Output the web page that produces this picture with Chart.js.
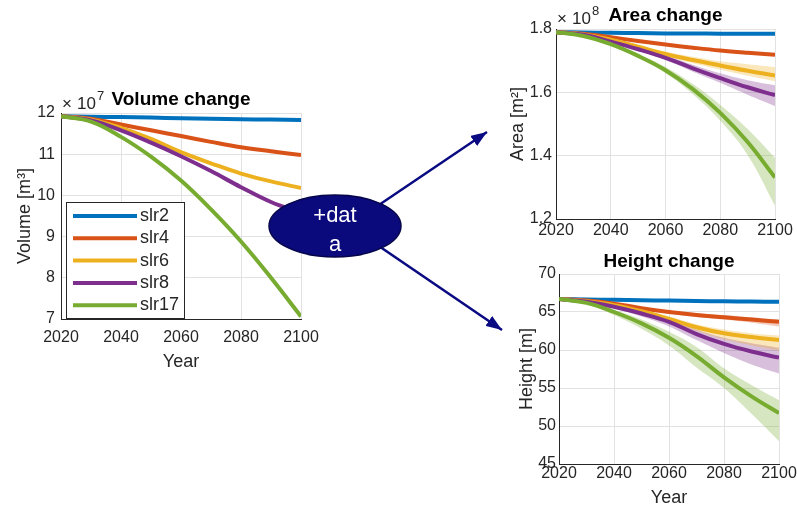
<!DOCTYPE html>
<html>
<head>
<meta charset="utf-8">
<script src="https://cdn.jsdelivr.net/npm/chart.js@4.4.0/dist/chart.umd.min.js"></script>
<style>
  body { margin: 0; background: #fff; }
  #wrap { position: relative; width: 797px; height: 509px; overflow: hidden; }
  .box { position: absolute; }
  svg { position: absolute; left: 0; top: 0; }
</style>
</head>
<body>
<div id="wrap">
  <div class="box" style="left:0;top:0;width:328px;height:380px"><canvas id="volume"></canvas></div>
  <div class="box" style="left:500px;top:0;width:297px;height:250px"><canvas id="area"></canvas></div>
  <div class="box" style="left:500px;top:250px;width:297px;height:259px"><canvas id="height"></canvas></div>
  <svg width="797" height="509">
    <defs>
      <marker id="ah" viewBox="0 0 16 12" refX="16" refY="6" markerWidth="16" markerHeight="12" markerUnits="userSpaceOnUse" orient="auto">
        <path d="M0,0 L16,6 L0,12 z" fill="#0a0a82"/>
      </marker>
    </defs>
    <line x1="370" y1="211" x2="487" y2="132" stroke="#0a0a82" stroke-width="2.5" marker-end="url(#ah)"/>
    <line x1="370" y1="240" x2="502" y2="330" stroke="#0a0a82" stroke-width="2.5" marker-end="url(#ah)"/>
    <ellipse cx="335" cy="226" rx="66" ry="31" fill="#0a0a7c" stroke="#05054a" stroke-width="1.5"/>
    <text x="335" y="222" fill="#fff" font-family="Liberation Sans, Arial, sans-serif" font-size="22" text-anchor="middle">+dat</text>
    <text x="335" y="251" fill="#fff" font-family="Liberation Sans, Arial, sans-serif" font-size="22" text-anchor="middle">a</text>
  </svg>
</div>
<script>
// years and scenarios
const years = [2020, 2030, 2040, 2050, 2060, 2070, 2080, 2090, 2100];
const scenarios = ['slr2', 'slr4', 'slr6', 'slr8', 'slr17'];
const yearTicks = [2020, 2040, 2060, 2080, 2100];
const volumeTicks = [7, 8, 9, 10, 11, 12];
const areaTicks = [1.2, 1.4, 1.6, 1.8];
const heightTicks = [45, 50, 55, 60, 65, 70];

// volume (x 1e7 m3)
const volSlr2 = [11.92, 11.91, 11.90, 11.89, 11.87, 11.86, 11.85, 11.84, 11.83];
const volSlr4 = [11.92, 11.86, 11.72, 11.58, 11.44, 11.30, 11.17, 11.07, 10.98];
const volSlr6 = [11.92, 11.84, 11.64, 11.37, 11.05, 10.78, 10.53, 10.34, 10.18];
const volSlr8 = [11.92, 11.82, 11.58, 11.28, 10.95, 10.59, 10.20, 9.84, 9.58];
const volSlr17 = [11.92, 11.79, 11.42, 10.94, 10.36, 9.66, 8.88, 8.00, 7.06];

// area (x 1e8 m2), mean + band
const areaSlr2 = [1.790, 1.789, 1.788, 1.787, 1.786, 1.786, 1.785, 1.785, 1.785];
const areaSlr4 = [1.790, 1.785, 1.774, 1.762, 1.751, 1.741, 1.732, 1.725, 1.719];
const areaSlr6 = [1.790, 1.783, 1.766, 1.744, 1.721, 1.702, 1.685, 1.668, 1.653];
const areaSlr8 = [1.790, 1.782, 1.760, 1.736, 1.709, 1.676, 1.645, 1.616, 1.591];
const areaSlr17 = [1.790, 1.778, 1.752, 1.715, 1.670, 1.610, 1.535, 1.443, 1.331];
const areaSlr4Hi = [1.790, 1.786, 1.776, 1.765, 1.754, 1.745, 1.737, 1.730, 1.724];
const areaSlr4Lo = [1.790, 1.784, 1.772, 1.759, 1.748, 1.737, 1.727, 1.720, 1.714];
const areaSlr6Hi = [1.790, 1.784, 1.769, 1.749, 1.728, 1.712, 1.698, 1.689, 1.680];
const areaSlr6Lo = [1.790, 1.782, 1.763, 1.739, 1.714, 1.692, 1.672, 1.652, 1.635];
const areaSlr8Hi = [1.790, 1.783, 1.763, 1.741, 1.716, 1.687, 1.660, 1.638, 1.622];
const areaSlr8Lo = [1.790, 1.781, 1.757, 1.731, 1.702, 1.665, 1.630, 1.592, 1.556];
const areaSlr17Hi = [1.790, 1.779, 1.755, 1.721, 1.680, 1.626, 1.560, 1.484, 1.393];
const areaSlr17Lo = [1.790, 1.777, 1.749, 1.709, 1.660, 1.594, 1.510, 1.402, 1.242];

// height (m), mean + band
const hSlr2 = [66.7, 66.65, 66.6, 66.55, 66.5, 66.45, 66.4, 66.37, 66.35];
const hSlr4 = [66.7, 66.5, 66.1, 65.5, 65.0, 64.6, 64.3, 64.0, 63.7];
const hSlr6 = [66.7, 66.4, 65.9, 65.1, 64.1, 63.0, 62.2, 61.7, 61.3];
const hSlr8 = [66.7, 66.35, 65.7, 64.8, 63.7, 62.1, 60.8, 59.8, 59.0];
const hSlr17 = [66.7, 66.2, 65.0, 63.5, 61.6, 59.2, 56.4, 53.9, 51.7];
const hSlr4Hi = [66.7, 66.55, 66.2, 65.65, 65.2, 64.85, 64.6, 64.3, 64.0];
const hSlr4Lo = [66.7, 66.45, 66.0, 65.35, 64.8, 64.35, 64.0, 63.6, 63.1];
const hSlr6Hi = [66.7, 66.45, 66.0, 65.3, 64.4, 63.4, 62.7, 62.2, 61.9];
const hSlr6Lo = [66.7, 66.35, 65.75, 64.8, 63.7, 62.5, 61.4, 60.6, 59.9];
const hSlr8Hi = [66.7, 66.4, 65.8, 65.0, 64.1, 62.7, 61.6, 60.9, 60.3];
const hSlr8Lo = [66.7, 66.3, 65.5, 64.4, 63.1, 61.3, 59.6, 58.1, 56.9];
const hSlr17Hi = [66.7, 66.3, 65.3, 64.0, 62.4, 60.4, 57.6, 55.4, 53.4];
const hSlr17Lo = [66.7, 66.1, 64.6, 62.8, 60.6, 57.7, 55.0, 51.6, 48.0];

const colors = ['#0072BD', '#D95319', '#EDB120', '#7E2F8E', '#77AC30'];
const bandColors = ['rgba(0,114,189,0.3)', 'rgba(217,83,25,0.3)', 'rgba(237,177,32,0.3)', 'rgba(126,47,142,0.3)', 'rgba(119,172,48,0.3)'];
const axisColor = '#262626';
const gridColor = '#e2e2e2';
const FONT = '"Liberation Sans", Arial, Helvetica, sans-serif';

Chart.defaults.font.family = FONT;
Chart.defaults.animation = false;

const pts = ys => years.map((x, i) => ({x: x, y: ys[i]}));

function lineSet(i, ys) {
  return {
    label: scenarios[i], data: pts(ys), borderColor: colors[i], backgroundColor: colors[i],
    borderWidth: 4, pointRadius: 0, tension: 0.4, fill: false, order: 10 - i
  };
}
function bandSets(i, hi, lo) {
  const base = {pointRadius: 0, borderWidth: 1, borderColor: 'rgba(0,0,0,0)', tension: 0.4, order: 20, band: true};
  return [
    Object.assign({label: '', data: pts(hi), fill: false}, base),
    Object.assign({label: '', data: pts(lo), fill: '-1', backgroundColor: bandColors[i]}, base)
  ];
}

function makeScales(o) {
  return {
    x: {
      type: 'linear', min: 2020, max: 2100,
      afterBuildTicks: s => { s.ticks = yearTicks.map(v => ({value: v})); },
      afterFit: s => { s.height = o.xh; },
      grid: {color: gridColor, drawTicks: false},
      border: {color: axisColor, width: 1},
      ticks: {color: axisColor, font: {size: 16}, padding: o.xpad, maxRotation: 0, autoSkip: false, callback: v => String(v)},
      title: {display: !!o.xTitle, text: o.xTitle || '', color: axisColor, font: {size: 18}, padding: {top: 0, bottom: o.xtpad || 0}}
    },
    y: {
      type: 'linear', min: o.ymin, max: o.ymax,
      afterBuildTicks: s => { s.ticks = o.yticks.map(v => ({value: v})); },
      afterFit: s => { s.width = o.yw; },
      grid: {color: gridColor, drawTicks: false},
      border: {color: axisColor, width: 1},
      ticks: {color: axisColor, font: {size: 16}, padding: o.ypad, callback: o.fmt || (v => String(v))},
      title: {display: true, text: o.yTitle, color: axisColor, font: {size: 18}, padding: {top: o.ytpad, bottom: 0}}
    }
  };
}

// title and exponent text above the axes
const decor = {
  id: 'decor',
  afterDraw(chart, args, opts) {
    const ctx = chart.ctx, a = chart.chartArea;
    ctx.save();
    ctx.fillStyle = '#000';
    ctx.font = 'bold 19px ' + FONT;
    ctx.textAlign = 'center';
    ctx.textBaseline = 'alphabetic';
    ctx.fillText(opts.title, (a.left + a.right) / 2, a.top - opts.titleOff);
    if (opts.exp) {
      const by = a.top - opts.expOff;
      ctx.fillStyle = axisColor;
      ctx.textAlign = 'left';
      ctx.font = '17px ' + FONT;
      ctx.fillText('\u00d7', a.left + 1, by);
      ctx.fillText('10', a.left + 16, by);
      const w = ctx.measureText('10').width;
      ctx.font = '13px ' + FONT;
      ctx.fillText(opts.exp, a.left + 17 + w, by - 9);
    }
    ctx.restore();
  }
};

// legend box drawn inside the volume axes
const boxLegend = {
  id: 'boxLegend',
  afterDraw(chart, args, opts) {
    if (!opts.show) return;
    const ctx = chart.ctx, a = chart.chartArea;
    const x0 = a.left + 5, y0 = a.top + 89, w = 118, h = 116;
    ctx.save();
    ctx.fillStyle = '#fff';
    ctx.fillRect(x0, y0, w, h);
    ctx.strokeStyle = axisColor;
    ctx.lineWidth = 1;
    ctx.strokeRect(x0 + 0.5, y0 + 0.5, w, h);
    const sets = chart.data.datasets.filter(d => !d.band);
    ctx.font = '18px ' + FONT;
    ctx.textBaseline = 'middle';
    sets.forEach((d, i) => {
      const y = y0 + 14 + i * 22.3;
      ctx.strokeStyle = d.borderColor;
      ctx.lineWidth = 4;
      ctx.beginPath();
      ctx.moveTo(x0 + 7, y);
      ctx.lineTo(x0 + 71, y);
      ctx.stroke();
      ctx.fillStyle = axisColor;
      ctx.fillText(d.label, x0 + 74, y);
    });
    ctx.restore();
  }
};

const common = {responsive: true, maintainAspectRatio: false};

new Chart(document.getElementById('volume'), {
  type: 'line',
  data: {datasets: [lineSet(0, volSlr2), lineSet(1, volSlr4), lineSet(2, volSlr6), lineSet(3, volSlr8), lineSet(4, volSlr17)]},
  options: Object.assign({}, common, {
    layout: {padding: {top: 113, right: 27, bottom: 0, left: 0}},
    scales: makeScales({xh: 61, xpad: 9, xTitle: 'Year', xtpad: 7, ymin: 7, ymax: 12, yticks: volumeTicks, yw: 61, ypad: 6, yTitle: 'Volume [m\u00b3]', ytpad: 14}),
    plugins: {legend: {display: false}, tooltip: {enabled: false},
      decor: {title: 'Volume change', titleOff: 8, exp: '7', expOff: 4}, boxLegend: {show: true}}
  }),
  plugins: [decor, boxLegend]
});

new Chart(document.getElementById('area'), {
  type: 'line',
  data: {datasets: [lineSet(0, areaSlr2), lineSet(1, areaSlr4), lineSet(2, areaSlr6), lineSet(3, areaSlr8), lineSet(4, areaSlr17)]
    .concat(bandSets(1, areaSlr4Hi, areaSlr4Lo), bandSets(2, areaSlr6Hi, areaSlr6Lo), bandSets(3, areaSlr8Hi, areaSlr8Lo), bandSets(4, areaSlr17Hi, areaSlr17Lo))},
  options: Object.assign({}, common, {
    layout: {padding: {top: 29, right: 22, bottom: 0, left: 0}},
    scales: makeScales({xh: 31, xpad: 2, ymin: 1.2, ymax: 1.8, yticks: areaTicks, yw: 56, ypad: 4, yTitle: 'Area [m\u00b2]', ytpad: 7, fmt: v => v.toFixed(1)}),
    plugins: {legend: {display: false}, tooltip: {enabled: false},
      decor: {title: 'Area change', titleOff: 8, exp: '8', expOff: 5}, boxLegend: {show: false}}
  }),
  plugins: [decor, boxLegend]
});

new Chart(document.getElementById('height'), {
  type: 'line',
  data: {datasets: [lineSet(0, hSlr2), lineSet(1, hSlr4), lineSet(2, hSlr6), lineSet(3, hSlr8), lineSet(4, hSlr17)]
    .concat(bandSets(1, hSlr4Hi, hSlr4Lo), bandSets(2, hSlr6Hi, hSlr6Lo), bandSets(3, hSlr8Hi, hSlr8Lo), bandSets(4, hSlr17Hi, hSlr17Lo))},
  options: Object.assign({}, common, {
    layout: {padding: {top: 24, right: 18, bottom: 0, left: 0}},
    scales: makeScales({xh: 45, xpad: 0, xTitle: 'Year', xtpad: 0, ymin: 45, ymax: 70, yticks: heightTicks, yw: 59, ypad: 3, yTitle: 'Height [m]', ytpad: 16}),
    plugins: {legend: {display: false}, tooltip: {enabled: false},
      decor: {title: 'Height change', titleOff: 7, exp: ''}, boxLegend: {show: false}}
  }),
  plugins: [decor, boxLegend]
});
</script>
</body>
</html>
